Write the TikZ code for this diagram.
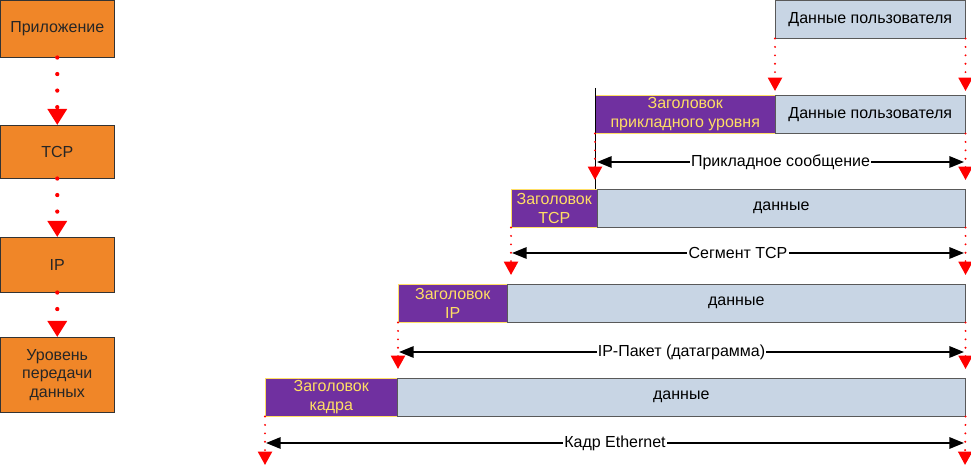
\documentclass[tikz,border=0pt]{standalone}
\usepackage{fontspec}
\setmainfont{Liberation Sans}
\usetikzlibrary{arrows.meta}

\definecolor{layerfill}{RGB}{240,134,40}
\definecolor{hdrfill}{RGB}{112,48,160}
\definecolor{hdrtext}{RGB}{255,222,100}
\definecolor{datafill}{RGB}{200,213,228}

\tikzset{
  txt/.style={font=\fontsize{12}{14.2}\selectfont},
  layer/.style={txt, draw=black!80, fill=layerfill, text=black!85, anchor=north west, inner sep=0pt, minimum width=85.5pt, align=center},
  hdr/.style={txt, draw=hdrtext, fill=hdrfill, text=hdrtext, anchor=north west, inner sep=0pt, minimum height=28.5pt, align=center},
  dat/.style={txt, draw=black!65, fill=datafill, anchor=north west, inner sep=0pt, minimum height=28.5pt},
  layerflow/.style={red, line width=3.2pt, line cap=round, dash pattern=on 0pt off 12.4pt, -{Triangle[width=14pt,length=12pt]}},
  copyflow/.style={red, line width=1.6pt, line cap=round, dash pattern=on 0pt off 6.3pt, -{Triangle[width=10.5pt,length=10pt]}},
  span/.style={black, line width=1.6pt, {Triangle[width=8.5pt,length=11pt]}-{Triangle[width=8.5pt,length=11pt]}},
  spanlbl/.style={txt, fill=white, inner sep=1pt}
}

\begin{document}
\begin{tikzpicture}[x=0.75pt,y=0.75pt,yscale=-1,xscale=1]
\useasboundingbox (0,0) rectangle (971,466);

%Shape: Rectangle
\node[layer, minimum height=42.75pt] (app) at (0,0) {Приложение};
\node[layer, minimum height=39.75pt] (tcp) at (0,125) {TCP};
\node[layer, minimum height=41.25pt] (ip) at (0,237) {IP};
\node[layer, minimum height=56.25pt, font=\fontsize{12}{13.75}\selectfont] (link) at (0,337) {Уровень\\передачи\\данных};

%Straight Lines
\draw[layerflow] (app.south) -- (tcp.north);
\draw[layerflow] (tcp.south) -- (ip.north);
\draw[layerflow] (ip.south) -- (link.north);

%Shape: Rectangle
\node[dat, minimum width=142.5pt] (userA) at (775,0) {Данные пользователя};
\node[hdr, minimum width=135pt] (hdrB) at (595,95) {Заголовок\\прикладного уровня};
\node[dat, minimum width=142.5pt] (dataB) at (775,95) {Данные пользователя};
\node[hdr, minimum width=64.5pt] (hdrC) at (511,189) {Заголовок\\TCP};
\node[dat, minimum width=276pt] (dataC) at (597,189) {данные};
\node[hdr, minimum width=81.75pt] (hdrD) at (398,284) {Заголовок\\IP};
\node[dat, minimum width=343.5pt] (dataD) at (507,284) {данные};
\node[hdr, minimum width=99pt] (hdrE) at (265,378) {Заголовок\\кадра};
\node[dat, minimum width=426pt] (dataE) at (397,378) {данные};

\coordinate (endEL) at (265,465);
\coordinate (endER) at (965,465);

%Straight Lines
\draw[line width=0.75] (hdrB.north west) ++(0,-7) -- (hdrB.south west |- dataC.north);
\draw[copyflow, shorten >=3pt] (userA.south west) -- (userA.south west |- dataB.north);
\draw[copyflow, shorten >=3pt] (userA.south east) -- (userA.south east |- dataB.north);
\draw[copyflow, shorten >=6.75pt] (hdrB.south west) -- (hdrB.south west |- dataC.north);
\draw[copyflow, shorten >=6.75pt] (dataB.south east) -- (dataB.south east |- dataC.north);
\draw[copyflow, shorten >=6.75pt] (hdrC.south west) -- (hdrC.south west |- dataD.north);
\draw[copyflow, shorten >=6.75pt] (dataC.south east) -- (dataC.south east |- dataD.north);
\draw[copyflow, shorten >=6.75pt] (hdrD.south west) -- (hdrD.south west |- dataE.north);
\draw[copyflow, shorten >=6.75pt] (dataD.south east) -- (dataD.south east |- dataE.north);
\draw[copyflow] (hdrE.south west) -- (endEL);
\draw[copyflow] (dataE.south east) -- (endER);

\coordinate (msgL) at (597,162);
\coordinate (msgR) at (964,162);
\coordinate (segL) at (512,253);
\coordinate (segR) at (964,253);
\coordinate (pktL) at (399,352);
\coordinate (pktR) at (964,352);
\coordinate (frmL) at (266,443);
\coordinate (frmR) at (964,443);

% Text Node
\draw[span] (msgL) -- node[spanlbl] {Прикладное сообщение} (msgR);
\draw[span] (segL) -- node[spanlbl] {Сегмент TCP} (segR);
\draw[span] (pktL) -- node[spanlbl] {IP-Пакет (датаграмма)} (pktR);
\draw[span] (frmL) -- node[spanlbl] {Кадр Ethernet} (frmR);

\end{tikzpicture}
\end{document}
